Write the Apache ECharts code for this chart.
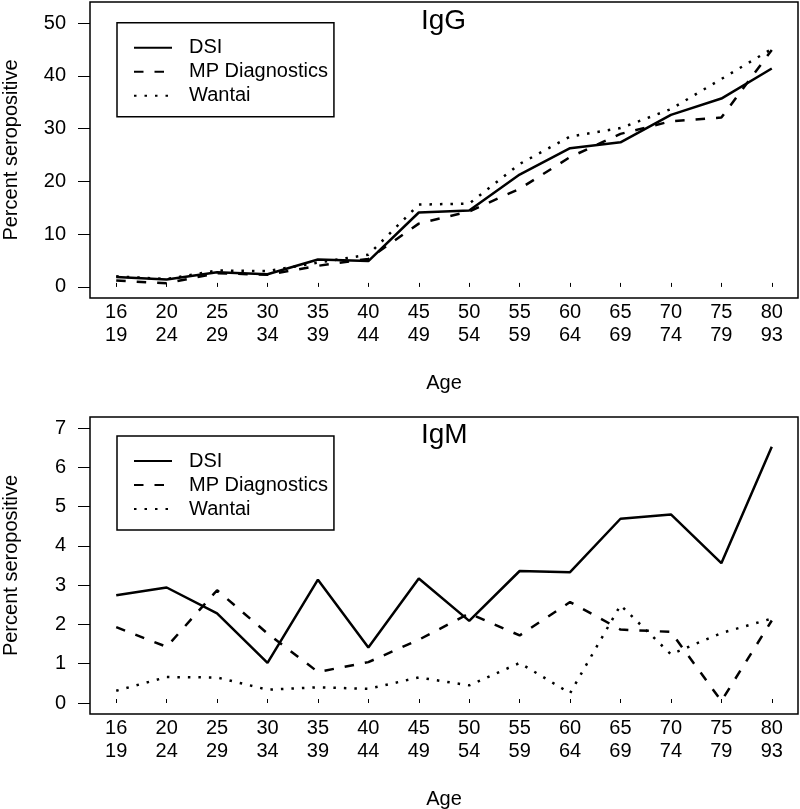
<!DOCTYPE html>
<html>
<head>
<meta charset="utf-8">
<script src="https://cdn.jsdelivr.net/npm/echarts@6/dist/echarts.min.js"></script>
<style>
html,body{margin:0;padding:0;background:#fff;}
#chart{width:800px;height:809px;}
</style>
</head>
<body>
<div id="chart"></div>
<script>
// ---- data ----
const ageStart = ['16','20','25','30','35','40','45','50','55','60','65','70','75','80'];
const ageEnd   = ['19','24','29','34','39','44','49','54','59','64','69','74','79','93'];
const seriesNames = ['DSI', 'MP Diagnostics', 'Wantai'];

const iggDSI    = [1.9, 1.4, 2.8, 2.4, 5.2, 4.9, 14.1, 14.5, 21.3, 26.3, 27.4, 32.6, 35.7, 41.4];
const iggMP     = [1.2, 0.7, 2.6, 2.3, 4.0, 5.3, 12.0, 14.3, 18.6, 24.6, 29.0, 31.4, 32.1, 44.9];
const iggWantai = [2.0, 1.5, 3.1, 3.0, 4.6, 6.1, 15.6, 15.8, 23.3, 28.5, 30.1, 33.7, 39.4, 45.1];

const igmDSI    = [2.74, 2.94, 2.28, 1.02, 3.14, 1.41, 3.17, 2.09, 3.36, 3.33, 4.69, 4.80, 3.56, 6.52];
const igmMP     = [1.93, 1.43, 2.87, 1.77, 0.79, 1.04, 1.61, 2.28, 1.72, 2.57, 1.87, 1.81, 0.05, 2.10];
const igmWantai = [0.31, 0.66, 0.65, 0.34, 0.40, 0.36, 0.65, 0.45, 1.02, 0.25, 2.49, 1.24, 1.78, 2.15];

const igTicks = [0, 10, 20, 30, 40, 50];
const imTicks = [0, 1, 2, 3, 4, 5, 6, 7];
const panelTitles = ['IgG', 'IgM'];

// ---- build ----
const FONT = '"Liberation Sans", Arial, Helvetica, sans-serif';
const FS = 20;
const positions = ageStart.map((_, i) => i + 1);
const pairs = arr => arr.map((v, i) => [i + 1, v]);
const styles = [
  { type: 'solid', width: 2.5 },
  { type: [9.5, 11], width: 2.5 },
  { type: [2.5, 8], width: 2.5, cap: 'butt' }
];

function xAxis(gridIndex) {
  return {
    type: 'value', gridIndex, min: 0.48, max: 14.52,
    axisLine: { show: false },
    splitLine: { show: false },
    axisTick: { show: true, inside: true, length: 4, customValues: positions, lineStyle: { color: '#000', width: 1 } },
    axisLabel: {
      customValues: positions, margin: 3, color: '#000', fontFamily: FONT, fontSize: FS, lineHeight: 23,
      formatter: v => ageStart[v - 1] + '\n' + ageEnd[v - 1]
    },
    name: 'Age', nameLocation: 'middle', nameGap: 75,
    nameTextStyle: { color: '#000', fontFamily: FONT, fontSize: FS, verticalAlign: 'top' }
  };
}
function yAxis(gridIndex, min, max, ticks) {
  return {
    type: 'value', gridIndex, min, max,
    axisLine: { show: false },
    splitLine: { show: false },
    axisTick: { show: true, inside: false, length: 12, customValues: ticks, lineStyle: { color: '#000', width: 1 } },
    axisLabel: { customValues: ticks, margin: 24, color: '#000', fontFamily: FONT, fontSize: FS },
    name: 'Percent seropositive', nameLocation: 'middle', nameGap: 69,
    nameTextStyle: { color: '#000', fontFamily: FONT, fontSize: FS }
  };
}
function lineSeries(name, data, k, idx) {
  return {
    type: 'line', name, data: pairs(data), xAxisIndex: idx, yAxisIndex: idx,
    symbol: 'none', showSymbol: false, silent: true, animation: false,
    color: '#000',
    lineStyle: Object.assign({ color: '#000' }, styles[k])
  };
}
function legend(top) {
  return {
    orient: 'vertical', left: 117, top,
    data: seriesNames,
    borderColor: '#000', borderWidth: 1.5, borderRadius: 0,
    padding: [15, 6, 11, 16],
    itemWidth: 38, itemHeight: 14, itemGap: 4,
    selectedMode: false,
    itemStyle: { color: 'rgba(0,0,0,0)', borderColor: 'rgba(0,0,0,0)', borderWidth: 0 },
    textStyle: { color: '#000', fontFamily: FONT, fontSize: FS, padding: [0, 0, 0, 12] }
  };
}

const option = {
  animation: false,
  backgroundColor: '#fff',
  title: [
    { text: panelTitles[0], left: 421, top: 7, padding: 0, textStyle: { color: '#000', fontFamily: FONT, fontSize: 28, fontWeight: 'normal' } },
    { text: panelTitles[1], left: 421, top: 421, padding: 0, textStyle: { color: '#000', fontFamily: FONT, fontSize: 28, fontWeight: 'normal' } }
  ],
  legend: [legend(22.7), legend(436)],
  grid: [
    { left: 90, top: 2, width: 708, height: 296, show: true, borderColor: '#000', borderWidth: 1.5, backgroundColor: 'transparent', containLabel: false, outerBoundsMode: 'none' },
    { left: 90, top: 417, width: 708, height: 297, show: true, borderColor: '#000', borderWidth: 1.5, backgroundColor: 'transparent', containLabel: false, outerBoundsMode: 'none' }
  ],
  xAxis: [xAxis(0), xAxis(1)],
  yAxis: [yAxis(0, -2.1, 54.0, igTicks), yAxis(1, -0.28, 7.28, imTicks)],
  series: [
    lineSeries(seriesNames[0], iggDSI, 0, 0),
    lineSeries(seriesNames[1], iggMP, 1, 0),
    lineSeries(seriesNames[2], iggWantai, 2, 0),
    lineSeries(seriesNames[0], igmDSI, 0, 1),
    lineSeries(seriesNames[1], igmMP, 1, 1),
    lineSeries(seriesNames[2], igmWantai, 2, 1)
  ]
};
const chart = echarts.init(document.getElementById('chart'), null, { renderer: 'canvas' });
chart.setOption(option);
</script>
</body>
</html>
